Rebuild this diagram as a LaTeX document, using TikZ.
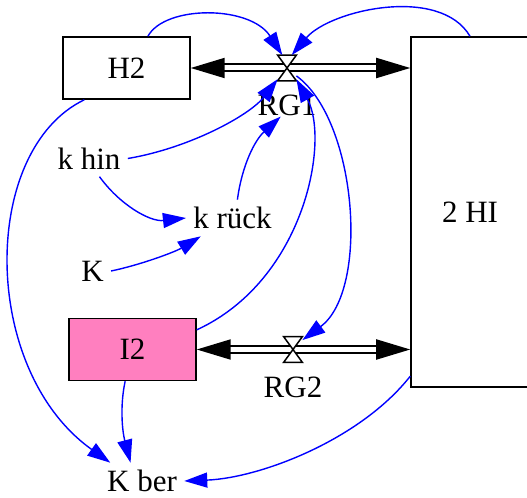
\documentclass[tikz,border=0pt]{standalone}
\usepackage{fontspec}
\setmainfont{Liberation Serif}
\usetikzlibrary{arrows.meta, positioning}
\definecolor{stockpink}{RGB}{255, 127, 191}

\begin{document}
\begin{tikzpicture}[x=0.5pt, y=-0.5pt,
        level/.style={draw, line width=0.75pt, minimum width=63.5pt,
                      minimum height=31pt, inner sep=0pt,
                      font=\fontsize{15.5}{18}\selectfont},
        aux/.style={inner sep=3.5pt, font=\fontsize{15.5}{18}\selectfont},
        valve/.style={minimum width=9pt, minimum height=12.5pt, inner sep=0pt},
        vlabel/.style={inner sep=0pt, font=\fontsize{15.5}{18}\selectfont},
        flow/.style={double, double distance=2.5pt, line width=1pt,
                     {Triangle[length=17pt, width=10pt]}-{Triangle[length=17pt, width=10pt]}},
        link/.style={blue, line width=0.7pt, -{Triangle[length=11.5pt, width=7.5pt]}}
      ]
        \useasboundingbox (0, 0) rectangle (527, 498);

        \node[level] (h2) at (126.5, 68) {H2};
        \node[level, fill=stockpink] (i2) at (132.5, 349.5) {I2};
        \node[level, minimum width=59pt, minimum height=175pt] (hi) at (470, 212) {2 HI};

        \node[valve] (rg1) at (287, 68) {};
        \node[vlabel, below=7pt of rg1] (rg1lab) {RG1};
        \node[valve] (rg2) at (293, 349.5) {};
        \node[vlabel, below=7pt of rg2] (rg2lab) {RG2};

        \node[aux] (khin) at (89, 158.5) {k hin};
        \node[aux] (krueck) at (232.5, 218) {k rück};
        \node[aux] (kk) at (92.5, 271) {K};
        \node[aux] (kber) at (142, 481) {K ber};

        \draw[flow] (h2.east) -- (h2.east -| hi.west);
        \draw[flow] (i2.east) -- (i2.east -| hi.west);
        \foreach \v in {rg1, rg2}
          \draw[line width=0.75pt, fill=white] (\v.north west) -- (\v.north east)
            -- (\v.south west) -- (\v.south east) -- cycle;

        \draw[link] (h2.56) .. controls (165, 5) and (250, 5) .. (rg1.110);
        \draw[link] (hi.north) .. controls (440, -15) and (330, 10) .. (rg1.70);
        \draw[link] (khin.east) .. controls (190, 148) and (250, 115) .. (rg1.-130);
        \draw[link] (krueck.75) .. controls (242, 165) and (255, 140) .. (rg1lab.-120);
        \draw[link] (i2.17) .. controls (305, 280) and (330, 140) .. (rg1.-50);
        \draw[link] (rg1.-40) .. controls (357, 120) and (370, 290) .. (rg2.45);
        \draw[link] (khin.-60) .. controls (120, 205) and (150, 222) .. (krueck.west);
        \draw[link] (kk.east) .. controls (140, 265) and (175, 252) .. (krueck.-150);
        \draw[link] (h2.-143) .. controls (-20, 150) and (-20, 370) .. (kber.150);
        \draw[link] (i2.-103) .. controls (120, 405) and (122, 430) .. (kber.122);
        \draw[link] (hi.-110) .. controls (360, 440) and (260, 478) .. (kber.east);
      \end{tikzpicture}
\end{document}
